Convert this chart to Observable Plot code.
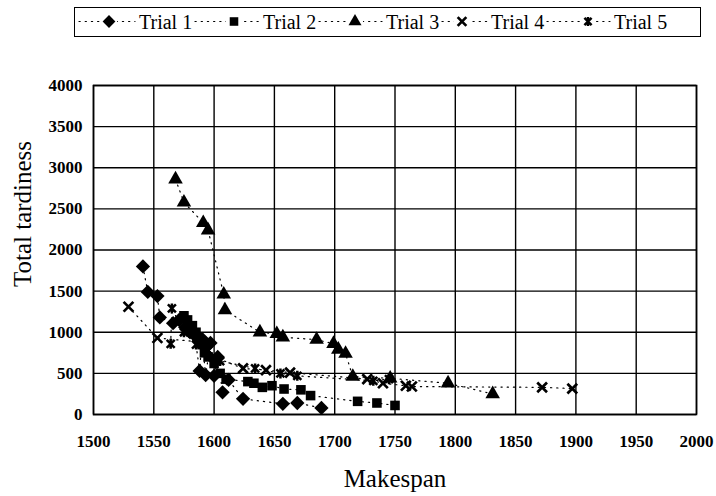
<!DOCTYPE html>
<html>
<head>
<meta charset="utf-8">
<script src="https://cdn.jsdelivr.net/npm/d3@7"></script>
<script src="https://cdn.jsdelivr.net/npm/@observablehq/plot@0.6"></script>
<style>
  html, body { margin: 0; padding: 0; background: #fff; }
  #wrap { position: relative; width: 716px; height: 496px; font-family: "Liberation Serif", "Times New Roman", Times, "DejaVu Serif", serif; }
  #legend { position: absolute; left: 74px; top: 7px; width: 627px; height: 30px; border: 1.5px solid #000; box-sizing: border-box; background: #fff; z-index: 2; }
</style>
</head>
<body>
<div id="wrap"><div id="legend"></div></div>
<script>
// ---- data ----
const trials = ["Trial 1", "Trial 2", "Trial 3", "Trial 4", "Trial 5"];
const t1Makespan = [1541, 1545, 1553, 1555, 1566, 1571, 1576, 1580, 1584, 1588, 1590, 1593, 1597, 1600, 1603, 1607, 1612, 1624, 1657, 1669, 1689];
const t1Tardiness = [1800, 1490, 1440, 1180, 1110, 1150, 1060, 1000, 960, 530, 920, 480, 870, 470, 700, 270, 420, 190, 130, 140, 80];
const t2Makespan = [1575, 1578, 1582, 1585, 1587, 1590, 1592, 1595, 1600, 1605, 1610, 1628, 1633, 1640, 1648, 1658, 1672, 1680, 1719, 1735, 1750];
const t2Tardiness = [1200, 1150, 1080, 1000, 930, 850, 750, 700, 620, 500, 430, 400, 380, 330, 350, 310, 300, 230, 160, 140, 110];
const t3Makespan = [1568, 1575, 1591, 1595, 1608, 1609, 1638, 1652, 1657, 1685, 1699, 1703, 1709, 1715, 1746, 1794, 1831];
const t3Tardiness = [2860, 2580, 2330, 2240, 1460, 1270, 1000, 980, 940, 910, 860, 790, 740, 460, 440, 380, 250];
const t4Makespan = [1529, 1553, 1590, 1600, 1624, 1643, 1663, 1727, 1740, 1759, 1764, 1872, 1897];
const t4Tardiness = [1310, 930, 880, 700, 560, 540, 510, 430, 380, 350, 340, 330, 315];
const t5Makespan = [1564, 1565, 1575, 1585, 1595, 1605, 1634, 1655, 1669, 1732, 1745];
const t5Tardiness = [860, 1290, 1000, 850, 780, 650, 560, 500, 470, 410, 430];
const xTicks = [1500, 1550, 1600, 1650, 1700, 1750, 1800, 1850, 1900, 1950, 2000];
const yTicks = [0, 500, 1000, 1500, 2000, 2500, 3000, 3500, 4000];

const series = [
  [t1Makespan, t1Tardiness], [t2Makespan, t2Tardiness], [t3Makespan, t3Tardiness],
  [t4Makespan, t4Tardiness], [t5Makespan, t5Tardiness]
];
const rows = series.flatMap(([xs, ys], i) => xs.map((x, j) => ({trial: trials[i], makespan: x, tardiness: ys[j]})));

// star marker: X with a vertical stroke
const starSymbol = {
  draw(context, size) {
    const r = Math.sqrt(size / Math.PI);
    const a = r * 0.8;
    context.moveTo(-a, -a); context.lineTo(a, a);
    context.moveTo(-a, a); context.lineTo(a, -a);
    context.moveTo(0, -r); context.lineTo(0, r);
  }
};
// square turned 45 degrees
const diamondSymbol = {
  draw(context, size) {
    const r = Math.sqrt(size / 2);
    context.moveTo(0, -r); context.lineTo(r, 0); context.lineTo(0, r); context.lineTo(-r, 0); context.closePath();
  }
};
const symbolStyles = [
  {symbol: diamondSymbol, r: 5.7, fill: "black", stroke: "none"},
  {symbol: "square", r: 5.4, fill: "black", stroke: "none"},
  {symbol: "triangle", r: 5.4, fill: "black", stroke: "none"},
  {symbol: "times", r: 4.5, fill: "none", stroke: "black", strokeWidth: 2.7},
  {symbol: starSymbol, r: 5.0, fill: "none", stroke: "black", strokeWidth: 2.5}
];
const d3Symbols = {square: d3.symbolSquare, triangle: d3.symbolTriangle, times: d3.symbolTimes};

const font = '"Liberation Serif", "Times New Roman", Times, "DejaVu Serif", serif';
const plot = Plot.plot({
  width: 716,
  height: 496,
  marginLeft: 93,
  marginRight: 20,
  marginTop: 85,
  marginBottom: 82,
  style: {fontFamily: font, background: "white", color: "black"},
  x: {domain: [1500, 2000]},
  y: {domain: [0, 4000]},
  marks: [
    Plot.gridX(xTicks, {stroke: "black", strokeOpacity: 1, strokeWidth: 1.4}),
    Plot.gridY(yTicks, {stroke: "black", strokeOpacity: 1, strokeWidth: 1.4}),
    Plot.frame({stroke: "black", strokeWidth: 1.6}),
    Plot.axisX(xTicks, {tickSize: 0, tickPadding: 20, fontSize: 17, fontWeight: "bold", label: null, tickFormat: d => String(d)}),
    Plot.axisY(yTicks, {tickSize: 0, tickPadding: 11, fontSize: 17, fontWeight: "bold", label: null, tickFormat: d => String(d)}),
    Plot.line(rows, {x: "makespan", y: "tardiness", z: "trial", sort: "makespan", stroke: "black", strokeWidth: 1.2, strokeDasharray: "1.2,5", strokeLinecap: "round"}),
    ...trials.map((t, i) => Plot.dot(rows.filter(d => d.trial === t), {x: "makespan", y: "tardiness", ...symbolStyles[i]})),
    Plot.text(["Makespan"], {frameAnchor: "bottom", lineAnchor: "middle", dy: 64, fontSize: 25, fill: "black"}),
    Plot.text(["Total tardiness"], {frameAnchor: "left", textAnchor: "middle", lineAnchor: "middle", dx: -71, dy: -36, rotate: -90, fontSize: 25, fill: "black"})
  ]
});
document.getElementById("wrap").appendChild(plot);

// ---- legend ----
const lw = 624, lh = 27;
const leg = d3.select("#legend").append("svg").attr("width", lw).attr("height", lh).style("display", "block");
const markerX = [34, 159, 280, 387, 513];
const textX = [64, 188, 311, 416, 539];
trials.forEach((t, i) => {
  const g = leg.append("g").attr("transform", `translate(0,${lh / 2})`);
  const x0 = i === 0 ? 4 : textX[i - 1] + 56;
  g.append("line").attr("x1", x0).attr("x2", textX[i] - 4).attr("y1", 0).attr("y2", 0)
    .attr("stroke", "black").attr("stroke-width", 1.2).attr("stroke-dasharray", "1.2,5").attr("stroke-linecap", "round");
  const st = symbolStyles[i];
  const sym = typeof st.symbol === "string" ? d3Symbols[st.symbol] : st.symbol;
  g.append("rect").attr("x", markerX[i] - 8).attr("y", -8).attr("width", 16).attr("height", 16).attr("fill", "white");
  g.append("path").attr("transform", `translate(${markerX[i]},0)`)
    .attr("d", d3.symbol(sym, Math.PI * st.r * st.r * 0.8)())
    .attr("fill", st.fill).attr("stroke", st.stroke).attr("stroke-width", st.strokeWidth || 0);
  g.append("text").attr("x", textX[i]).attr("y", 0).attr("dy", "0.35em")
    .attr("font-family", font).attr("font-size", 20).text(t);
});
</script>
</body>
</html>
